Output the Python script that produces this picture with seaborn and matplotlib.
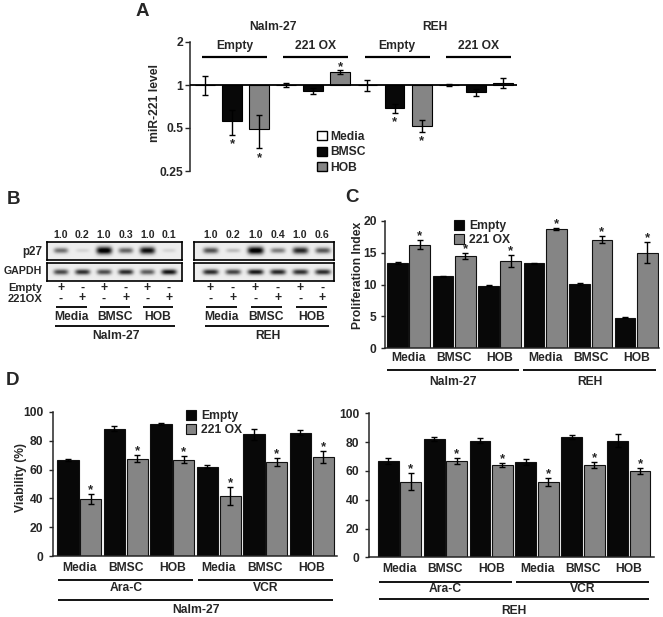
import numpy as np
import pandas as pd
import matplotlib
matplotlib.use("Agg")
import matplotlib.pyplot as plt
import matplotlib.transforms as mtransforms
from matplotlib.patches import Patch
import seaborn as sns

# ---------------- data ----------------
# Panel A : miR-221 level (relative, log2 axis)
A_cells = ["Nalm-27"] * 6 + ["REH"] * 6
A_vectors = (["Empty"] * 3 + ["221 OX"] * 3) * 2
A_treat = ["Media", "BMSC", "HOB"] * 4
A_values = [1.00, 0.56, 0.49, 1.00, 0.91, 1.23, 1.00, 0.69, 0.52, 1.00, 0.89, 1.04]
A_err = [0.15, 0.11, 0.13, 0.03, 0.05, 0.04, 0.09, 0.05, 0.05, 0.02, 0.05, 0.08]
A_sig = [0, 1, 1, 0, 0, 1, 0, 1, 1, 0, 0, 0]
A_yticks = [0.25, 0.5, 1, 2]
A_ytick_labels = ["0.25", "0.5", "1", "2"]
A_legend = ["Media", "BMSC", "HOB"]

# Panel B : western blot
B_cells = ["Nalm-27", "REH"]
B_treat = ["Media", "BMSC", "HOB"]
B_empty_signs = ["+", "-", "+", "-", "+", "-"]
B_ox_signs = ["-", "+", "-", "+", "-", "+"]
B_ratio_nalm = ["1.0", "0.2", "1.0", "0.3", "1.0", "0.1"]
B_ratio_reh = ["1.0", "0.2", "1.0", "0.4", "1.0", "0.6"]
B_p27_nalm = [0.50, 0.10, 1.00, 0.55, 0.90, 0.10]
B_p27_reh = [0.62, 0.20, 1.00, 0.45, 0.80, 0.60]
B_gapdh_nalm = [0.66, 0.76, 0.64, 0.78, 0.58, 0.88]
B_gapdh_reh = [0.78, 0.68, 0.86, 0.80, 0.76, 0.78]

# Panel C : proliferation index
C_cells = ["Nalm-27"] * 3 + ["REH"] * 3
C_treat = ["Media", "BMSC", "HOB"] * 2
C_empty = [13.4, 11.3, 9.8, 13.3, 10.1, 4.8]
C_empty_err = [0.2, 0.1, 0.1, 0.1, 0.2, 0.05]
C_ox = [16.2, 14.5, 13.7, 18.7, 17.0, 15.0]
C_ox_err = [0.7, 0.45, 0.9, 0.15, 0.55, 1.6]
C_ox_sig = [1, 1, 1, 1, 1, 1]
C_yticks = [0, 5, 10, 15, 20]

# Panel D : viability (%)
D_drugs = ["Ara-C"] * 3 + ["VCR"] * 3
D_treat = ["Media", "BMSC", "HOB"] * 2
D_nalm_empty = [66.6, 88.2, 91.5, 61.9, 84.3, 85.5]
D_nalm_empty_err = [0.9, 1.6, 0.5, 1.0, 4.0, 1.5]
D_nalm_ox = [39.4, 67.5, 66.8, 41.7, 65.0, 68.9]
D_nalm_ox_err = [3.5, 2.4, 2.5, 6.0, 2.7, 4.2]
D_reh_empty = [66.9, 81.9, 81.0, 66.0, 83.8, 81.0]
D_reh_empty_err = [1.8, 1.4, 1.6, 2.0, 1.4, 4.6]
D_reh_ox = [52.5, 66.9, 64.1, 52.3, 64.1, 59.9]
D_reh_ox_err = [5.7, 2.3, 1.4, 2.6, 2.0, 2.1]
D_yticks = [0, 20, 40, 60, 80, 100]
vectors = ["Empty", "221 OX"]

# ---------------- style ----------------
sns.set_style("ticks")
plt.rcParams["font.family"] = ["Liberation Sans", "DejaVu Sans"]
plt.rcParams["font.weight"] = "bold"
plt.rcParams["axes.labelweight"] = "bold"
plt.rcParams["axes.linewidth"] = 1.1
FS = 8.7
BLACK = "#080808"
GRAY = "#858585"

W, H = 663, 617
fig = plt.figure(figsize=(W / 100, H / 100), dpi=100)


def add_ax(l, t, r, b):
    return fig.add_axes([l / W, 1 - b / H, (r - l) / W, (b - t) / H])


def fy(py):
    return 1 - py / H


def ptext(x, y, s, **kw):
    kw.setdefault("fontsize", FS)
    kw.setdefault("fontweight", "bold")
    fig.text(x / W, fy(y), s, **kw)


def blend(ax):
    return mtransforms.blended_transform_factory(ax.transData, fig.transFigure)


def hline(ax, x0, x1, py, lw=1.3):
    ax.plot([x0, x1], [fy(py), fy(py)], color="black", lw=lw, transform=blend(ax),
            clip_on=False, solid_capstyle="butt")


def dtext(ax, x, py, s, fs=FS, **kw):
    ax.text(x, fy(py), s, transform=blend(ax), ha="center", va="center",
            fontsize=fs, fontweight="bold", **kw)


# ================= Panel A =================
axA = add_ax(190, 42, 517, 171)
dfA = pd.DataFrame({"pos": [str(i) for i in range(len(A_values))],
                    "treat": A_treat, "log2": np.log2(A_values)})
sns.barplot(data=dfA, x="pos", y="log2", hue="treat", hue_order=A_legend,
            palette={"Media": "white", "BMSC": BLACK, "HOB": GRAY},
            dodge=False, width=0.73, errorbar=None, edgecolor="black",
            linewidth=0.8, legend=False, ax=axA)
xA = axA.get_xticks()
vA = np.array(A_values)
eA = np.array(A_err)
yA = np.log2(vA)
axA.errorbar(xA, yA, yerr=[yA - np.log2(vA - eA), np.log2(vA + eA) - yA], fmt="none",
             ecolor="black", elinewidth=1.0, capsize=2.2, capthick=1.0, zorder=3)
for i, s in enumerate(A_sig):
    if not s:
        continue
    if vA[i] < 1:
        axA.annotate("*", (xA[i], np.log2(vA[i] - eA[i])), xytext=(0, -2.5),
                     textcoords="offset points", ha="center", va="top", fontsize=9.5)
    else:
        axA.annotate("*", (xA[i], np.log2(vA[i] + eA[i])), xytext=(0, -2),
                     textcoords="offset points", ha="center", va="bottom", fontsize=9.5)
axA.axhline(0, color="black", lw=1.3, zorder=4)
axA.set_ylim(np.log2(0.25), np.log2(2))
axA.set_xlim(-0.55, 11.52)
axA.set_yticks(np.log2(A_yticks))
axA.set_yticklabels(A_ytick_labels)
axA.set_xticks([])
axA.set_xlabel("")
axA.set_ylabel("")
for sp in ["top", "right", "bottom"]:
    axA.spines[sp].set_visible(False)
axA.tick_params(axis="y", labelsize=FS, length=3.5, width=1.0, pad=1.5)
ptext(155, 103, "miR-221 level", rotation=90, ha="center", va="center")
# group headers
for k in range(4):
    idx = list(range(3 * k, 3 * k + 3))
    x0, x1 = xA[idx[0]] - 0.1, xA[idx[-1]] + 0.3
    hline(axA, x0, x1, 57, lw=1.6)
    dtext(axA, (x0 + x1) / 2, 46, A_vectors[idx[0]])
for c in ["Nalm-27", "REH"]:
    idx = [i for i, cc in enumerate(A_cells) if cc == c]
    dtext(axA, (xA[idx[0]] + xA[idx[-1]]) / 2, 27, c)
hA = [Patch(facecolor=col, edgecolor="black", linewidth=1.0) for col in ["white", BLACK, GRAY]]
fig.legend(hA, A_legend, loc="upper left", bbox_to_anchor=(311 / W, fy(125)),
           frameon=False, borderpad=0, handlelength=0.8, handleheight=0.8,
           handletextpad=0.3, labelspacing=0.28, fontsize=FS)

# ================= Panel B =================
def blot(ax, intens, kind, xlim):
    x0, x1 = xlim
    xs = np.linspace(x0, x1, 400)
    ys = np.linspace(0, 1, 80)
    X, Y = np.meshgrid(xs, ys)
    img = np.full_like(X, 0.07)
    for i, a in enumerate(intens):
        hh = (0.09 + 0.11 * a) if kind == "p27" else 0.15
        hw = 0.30 + 0.06 * a
        img += a * np.exp(-np.abs((X - i) / hw) ** 4) * np.exp(-((Y - 0.5) / hh) ** 2)
    ax.imshow(np.clip(img, 0, 1), cmap="gray_r", vmin=0, vmax=1.0,
              extent=[x0, x1, 0, 1], aspect="auto", origin="lower",
              interpolation="bilinear")
    ax.set_xlim(x0, x1)
    ax.set_ylim(0, 1)
    ax.set_xticks([])
    ax.set_yticks([])
    for sp in ax.spines.values():
        sp.set_linewidth(1.2)
        sp.set_color("black")


blot_sets = [
    ((46.7, 181.7), (-0.64, 5.59), B_p27_nalm, B_gapdh_nalm, B_ratio_nalm, B_cells[0]),
    ((194.0, 334.3), (-0.74, 5.53), B_p27_reh, B_gapdh_reh, B_ratio_reh, B_cells[1]),
]
for (l, r), xl, p27, gap, ratios, cell in blot_sets:
    axP = add_ax(l, 241.7, r, 260.0)
    axG = add_ax(l, 262.7, r, 280.7)
    blot(axP, p27, "p27", xl)
    blot(axG, gap, "gapdh", xl)
    for i in range(6):
        dtext(axP, i, 235, ratios[i], fs=7.6)
        dtext(axP, i, 287.5, B_empty_signs[i], fs=FS)
        dtext(axP, i, 298.5, B_ox_signs[i], fs=FS)
    for k in range(3):
        c = 2 * k + 0.5
        hline(axP, c - 0.7, c + 0.7, 306.7)
        dtext(axP, c, 316.7, B_treat[k])
    hline(axP, -0.25, 5.3, 326)
    dtext(axP, 2.55, 336, cell)
ptext(42, 251.5, "p27", ha="right", va="center", fontsize=8.4)
ptext(42, 271.5, "GAPDH", ha="right", va="center", fontsize=7.7)
ptext(42, 287.5, "Empty", ha="right", va="center", fontsize=8)
ptext(42, 298.5, "221OX", ha="right", va="center", fontsize=8)


# ================= bar panels C / D =================
def paired_bars(ax, groups, labels, empty, empty_err, ox, ox_err, sig, xlim, ylim, yticks,
                tick_len, tick_pad, xpad):
    df = pd.DataFrame({"group": [f"{g} {i}" for i, g in enumerate(groups)] * 2,
                       "vector": ["Empty"] * len(empty) + ["221 OX"] * len(ox),
                       "value": list(empty) + list(ox)})
    sns.barplot(data=df, x="group", y="value", hue="vector", hue_order=vectors,
                palette={"Empty": BLACK, "221 OX": GRAY}, width=0.98, gap=0.07,
                errorbar=None, edgecolor="#111111", linewidth=0.8, legend=False, ax=ax)
    for cont, errs in zip(ax.containers, [empty_err, ox_err]):
        xs = [b.get_x() + b.get_width() / 2 for b in cont]
        hs = [b.get_height() for b in cont]
        ax.errorbar(xs, hs, yerr=errs, fmt="none", ecolor="black", elinewidth=1.0,
                    capsize=2.2, capthick=1.0, zorder=3)
    cont = ax.containers[1]
    for b, e, s in zip(cont, ox_err, sig):
        if s:
            ax.annotate("*", (b.get_x() + b.get_width() / 2, b.get_height() + e),
                        xytext=(0, -1.5), textcoords="offset points", ha="center",
                        va="bottom", fontsize=9.5)
    ax.set_xlim(*xlim)
    ax.set_ylim(*ylim)
    ax.set_yticks(yticks)
    ax.set_xticks(range(len(labels)))
    ax.set_xticklabels(labels)
    ax.set_xlabel("")
    ax.set_ylabel("")
    ax.tick_params(axis="y", labelsize=FS, length=tick_len, width=1.0, pad=tick_pad)
    ax.tick_params(axis="x", labelsize=FS, length=0, pad=xpad)
    sns.despine(ax=ax)


def vec_legend(x, y):
    h = [Patch(facecolor=c, edgecolor="#111111", linewidth=0.8) for c in [BLACK, GRAY]]
    fig.legend(h, vectors, loc="upper left", bbox_to_anchor=(x / W, fy(y)),
               frameon=False, borderpad=0, handlelength=0.85, handleheight=0.85,
               handletextpad=0.4, labelspacing=0.2, fontsize=FS)


# ---- C ----
axC = add_ax(385, 220.7, 659, 348.3)
paired_bars(axC, C_cells, C_treat, C_empty, C_empty_err, C_ox, C_ox_err, C_ox_sig,
            (-0.52, 5.5), (0, 20), C_yticks, 3, 3, 3.0)
ptext(358, 275, "Proliferation Index", rotation=90, ha="center", va="center")
for c in ["Nalm-27", "REH"]:
    idx = [i for i, cc in enumerate(C_cells) if cc == c]
    x0, x1 = idx[0] - 0.48, idx[-1] + 0.43
    hline(axC, x0, x1, 370)
    dtext(axC, (x0 + x1) / 2, 381.7, c)
vec_legend(448, 214)

# ---- D ----
D_sets = [
    ((53.3, 411.7, 337, 556.3), (-0.56, 5.54), D_nalm_empty, D_nalm_empty_err, D_nalm_ox,
     D_nalm_ox_err, "Nalm-27", (580, 588.3, 600, 610)),
    ((369.3, 413.3, 654, 557.3), (-0.66, 5.55), D_reh_empty, D_reh_empty_err, D_reh_ox,
     D_reh_ox_err, "REH", (581.7, 589.3, 599, 610.7)),
]
for box, xl, em, eme, ox, oxe, cell, ys in D_sets:
    ax = add_ax(*box)
    paired_bars(ax, D_drugs, D_treat, em, eme, ox, oxe, [1] * 6, xl, (0, 100), D_yticks,
                3, 4, 4.2)
    for d in ["Ara-C", "VCR"]:
        idx = [i for i, dd in enumerate(D_drugs) if dd == d]
        x0, x1 = idx[0] - 0.45, idx[-1] + 0.45
        hline(ax, x0, x1, ys[0])
        dtext(ax, (x0 + x1) / 2, ys[1], d)
    hline(ax, -0.45, len(D_drugs) - 1 + 0.45, ys[2])
    dtext(ax, (len(D_drugs) - 1) / 2, ys[3], cell)
ptext(21, 478, "Viability (%)", rotation=90, ha="center", va="center")
vec_legend(180, 404)

# panel letters
for s, x, y in [("A", 142, 11.5), ("B", 14, 199), ("C", 352, 197.5), ("D", 12.5, 380.5)]:
    ptext(x, y, s, fontsize=13.5, ha="center", va="center")

fig.savefig("out.png", dpi=100)
